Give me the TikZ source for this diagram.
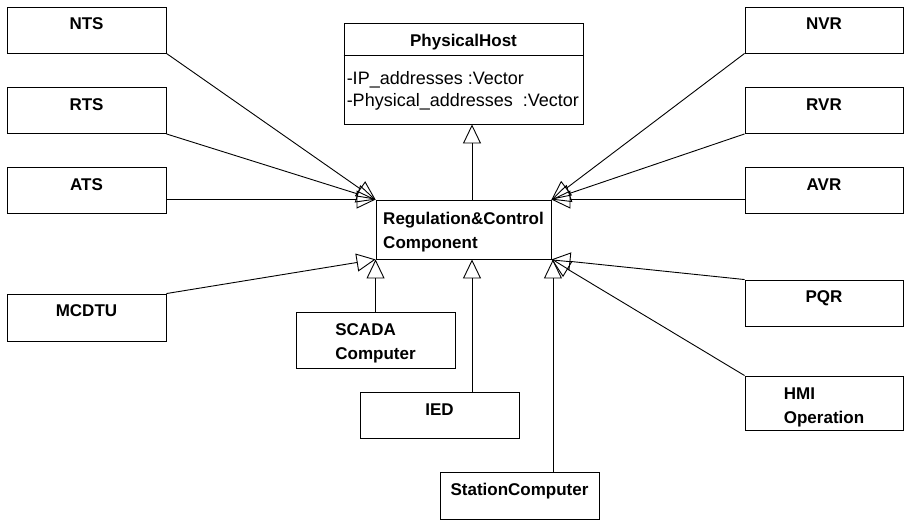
\documentclass[tikz,border=0pt]{standalone}
\usepackage{fontspec}
\setmainfont{Liberation Sans}
\usetikzlibrary{arrows.meta}
\begin{document}
\begin{tikzpicture}[x=1pt,y=-1pt,
  box/.style={draw, line width=0.9pt, inner sep=0pt,
    minimum width=159pt, minimum height=46pt},
  lbl/.style={anchor=base, align=left, inner sep=0pt,
    font=\fontsize{17}{24}\selectfont\bfseries},
  attr/.style={anchor=base west, align=left, inner sep=0pt,
    font=\fontsize{18}{22}\selectfont},
  gen/.style={line width=0.9pt,
    -{Triangle[open, length=19pt, width=18pt, line width=0.9pt]}}]
\useasboundingbox (0,0) rectangle (904,521);

% central class and its superclass
\node[box, minimum width=239pt, minimum height=101pt] (phost) at (463.5,73.5) {};
\node[lbl] (phostname) at ([yshift=-24pt]phost.north) {PhysicalHost};
\draw[line width=0.9pt] (phost.west |- 0,55) -- (phost.east |- 0,55);
\node[attr] (phostattr) at ([xshift=3pt,yshift=-84pt]phost.north west)
  {-IP\_addresses :Vector\\-Physical\_addresses\ \ :Vector};

\node[box, minimum width=175pt, minimum height=59pt] (reg) at (463.5,229.5) {};
\node[lbl] (regname) at ([yshift=-49pt]reg.north) {Regulation\&Control\\Component};

% left column
\node[box] (nts) at (86.5,30) {};
\node[lbl] (ntsname) at ([yshift=-23pt]nts.north) {NTS};
\node[box] (rts) at (86.5,110.5) {};
\node[lbl] (rtsname) at ([yshift=-23pt]rts.north) {RTS};
\node[box] (ats) at (86.5,190.5) {};
\node[lbl] (atsname) at ([yshift=-23pt]ats.north) {ATS};
\node[box, minimum height=47pt] (mcdtu) at (86.5,317.5) {};
\node[lbl] (mcdtuname) at ([yshift=-23pt]mcdtu.north) {MCDTU};

% right column
\node[box, minimum width=158pt] (nvr) at (824,30) {};
\node[lbl] (nvrname) at ([yshift=-23pt]nvr.north) {NVR};
\node[box, minimum width=158pt] (rvr) at (824,110.5) {};
\node[lbl] (rvrname) at ([yshift=-23pt]rvr.north) {RVR};
\node[box, minimum width=158pt] (avr) at (824,190.5) {};
\node[lbl] (avrname) at ([yshift=-23pt]avr.north) {AVR};
\node[box, minimum width=158pt] (pqr) at (824,303) {};
\node[lbl] (pqrname) at ([yshift=-23pt]pqr.north) {PQR};
\node[box, minimum width=158pt, minimum height=54pt] (hmi) at (824,403) {};
\node[lbl] (hminame) at ([yshift=-48pt]hmi.north) {HMI\\Operation};

% bottom row
\node[box, minimum height=56pt] (scada) at (375.5,340) {};
\node[lbl] (scadaname) at ([yshift=-48pt]scada.north) {SCADA\\Computer};
\node[box] (ied) at (439.5,415) {};
\node[lbl] (iedname) at ([yshift=-24pt]ied.north) {IED};
\node[box, minimum height=47pt] (sc) at (519.5,495.5) {};
\node[lbl] (scname) at ([yshift=-24pt]sc.north) {StationComputer};

% generalisations
\draw[gen] ([xshift=8.5pt]reg.north) -- ([xshift=8.5pt]reg.north |- phost.south);
\draw[gen] (nts.south east) -- (reg.north west);
\draw[gen] (rts.south east) -- (reg.north west);
\draw[gen] (ats.east |- reg.north west) -- (reg.north west);
\draw[gen] (mcdtu.north east) -- (reg.south west);
\draw[gen] (nvr.south west) -- (reg.north east);
\draw[gen] (rvr.south west) -- (reg.north east);
\draw[gen] (avr.west |- reg.north east) -- (reg.north east);
\draw[gen] (pqr.north west) -- (reg.south east);
\draw[gen] (hmi.north west) -- (reg.south east);
\draw[gen] (reg.south west |- scada.north) -- (reg.south west);
\draw[gen] ([xshift=32.5pt]ied.north) -- ([xshift=32.5pt]ied.north |- reg.south);
\draw[gen] ([xshift=1.5pt]reg.south east |- sc.north) -- ([xshift=1.5pt]reg.south east);
\end{tikzpicture}
\end{document}
